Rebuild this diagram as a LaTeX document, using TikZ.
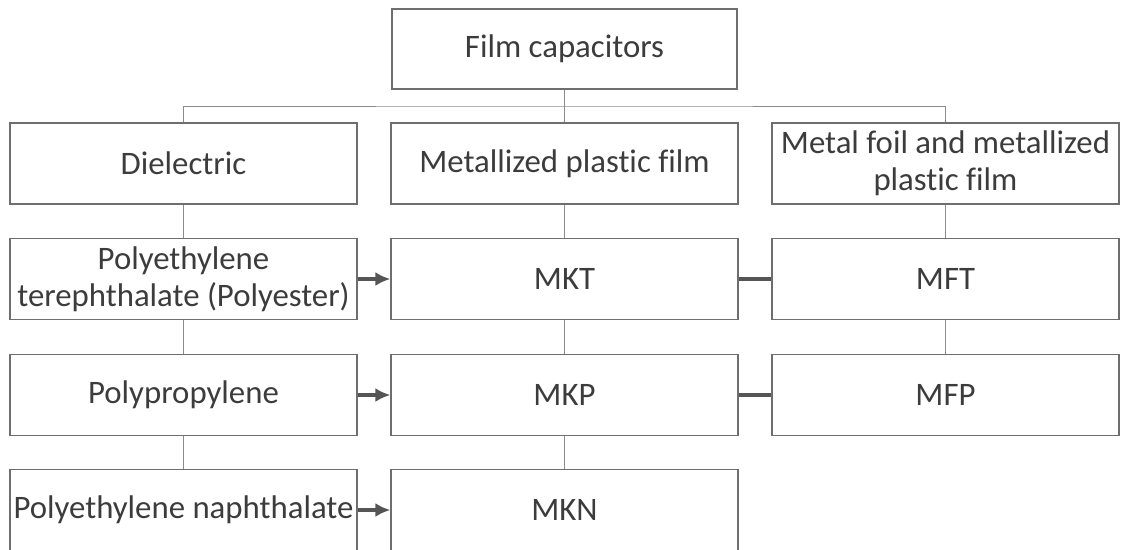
\documentclass[tikz,border=0pt]{standalone}
\usepackage{fontspec}
\setmainfont[Ligatures=NoCommon]{Carlito}
\usepackage{tikz}
\definecolor{boxgray}{RGB}{110,110,110}
\definecolor{textgray}{RGB}{60,60,60}
\definecolor{arrowgray}{RGB}{85,85,85}
\usetikzlibrary{arrows.meta}

\begin{document}
\begin{tikzpicture}[x=1pt, y=-1pt,
				box/.style={draw=boxgray, line width=1.2pt, minimum width=347pt, minimum height=81pt, inner sep=1pt, align=center, text=textgray, font=\fontsize{32.8}{37}\selectfont},
				conn/.style={draw=boxgray!80, line width=0.9pt},
				link/.style={draw=arrowgray, line width=4.5pt},
				>={Latex[length=15pt,width=14pt]}]
				%Bildbereich
				\useasboundingbox (0,0) rectangle (1123,549);
				% Oberster Knoten
				\node[box, minimum width=345pt, minimum height=80pt] (film) at (564.5,49) {Film capacitors};
				% Kopfzeile
				\node[box] (diel) at (183.5,163.5) {Dielectric};
				\node[box] (metal) at (564.5,163.5) {Metallized plastic film};
				\node[box] (foil) at (945.5,163.5) {Metal foil and metallized\\plastic film};
				% linke Spalte
				\node[box] (pet) at (183.5,279) {Polyethylene\\terephthalate (Polyester)};
				\node[box] (pp) at (183.5,395) {Polypropylene};
				\node[box] (pen) at (183.5,510) {Polyethylene naphthalate};
				% mittlere Spalte
				\node[box] (mkt) at (564.5,279) {MKT};
				\node[box] (mkp) at (564.5,395) {MKP};
				\node[box] (mkn) at (564.5,510) {MKN};
				% rechte Spalte
				\node[box] (mft) at (945.5,279) {MFT};
				\node[box] (mfp) at (945.5,395) {MFP};
				% Verzweigung
				\coordinate (bus) at (564.5,106);
				\draw[conn] (film.south) -- (bus);
				\draw[conn] (diel.north) |- (bus) -| (foil.north);
				\draw[conn] (bus) -- (metal.north);
				% senkrechte Verbindungen
				\draw[conn] (diel) -- (pet) -- (pp) -- (pen);
				\draw[conn] (metal) -- (mkt) -- (mkp) -- (mkn);
				\draw[conn] (foil) -- (mft) -- (mfp);
				% Pfeile und Querverbindungen
				\foreach \a/\b in {pet/mkt, pp/mkp, pen/mkn}
					\draw[link, ->] (\a.east) -- (\b.west);
				\draw[link] (mkt.east) -- (mft.west);
				\draw[link] (mkp.east) -- (mfp.west);
			\end{tikzpicture}
\end{document}
